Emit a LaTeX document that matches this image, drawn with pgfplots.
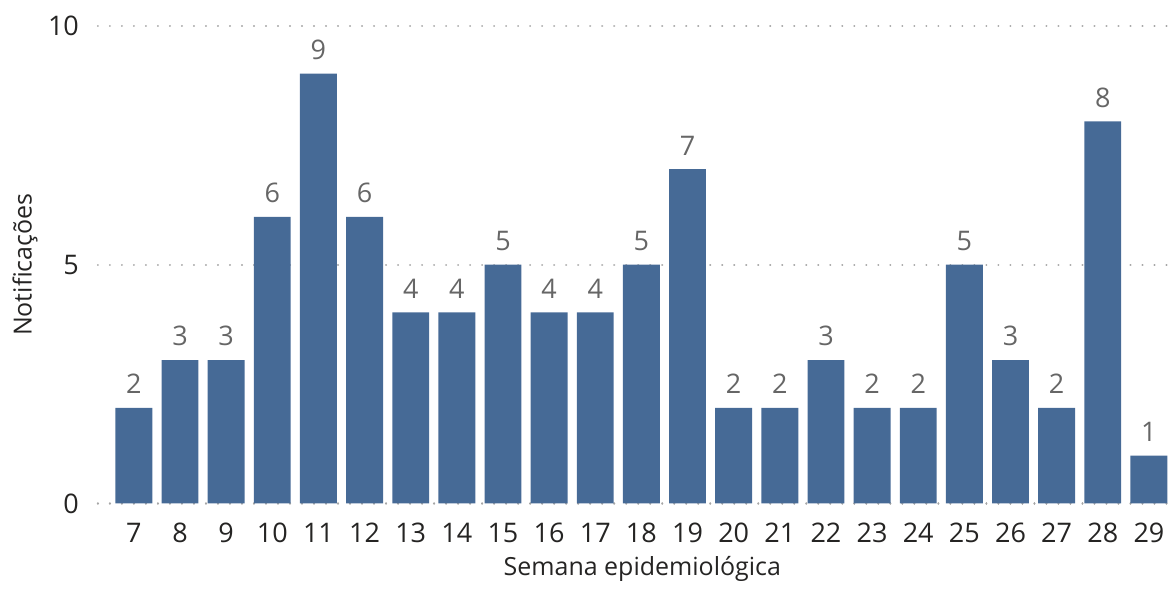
\documentclass[border=0pt]{standalone}
\usepackage{pgfplots}
\pgfplotsset{compat=1.18}
\usepackage{fontspec}
\setmainfont{Open Sans}
\definecolor{barblue}{HTML}{466A96}
\definecolor{lblgray}{HTML}{666666}
\definecolor{tickblack}{HTML}{252423}

\pgfplotstableread{
semana notif
7 2
8 3
9 3
10 6
11 9
12 6
13 4
14 4
15 5
16 4
17 4
18 5
19 7
20 2
21 2
22 3
23 2
24 2
25 5
26 3
27 2
28 8
29 1
}\notificacoes

\begin{document}
\begin{tikzpicture}
% fixed canvas: 1px = 0.5pt
\path (-49pt,-39pt) rectangle (536.5pt,252pt);
\begin{axis}[
    at={(0,0)}, anchor=south west,
    scale only axis,
    width=536.5pt, height=239pt,
    xmin=6.22, xmax=29.45,
    ymin=0, ymax=10,
    ytick={0,5,10},
    xtick={7,...,29},
    axis line style={draw=none},
    tick style={draw=none},
    ymajorgrids,
    major grid style={draw=gray!70, line width=1.1pt, dash pattern=on 0.01pt off 6pt, line cap=round},
    ticklabel style={font=\fontsize{13.5}{16}\selectfont, text=tickblack},
    /pgf/number format/assume math mode=true,
    yticklabel style={anchor=east, xshift=-6pt},
    xticklabel style={anchor=north, yshift=-2pt},
    xlabel={Semana epidemiológica},
    ylabel={Notificações},
    label style={font=\fontsize{12.5}{15}\selectfont, text=tickblack},
    xlabel style={at={(axis description cs:0.508,0)}, anchor=center, yshift=-33pt},
    ylabel style={at={(axis description cs:-0.068,0.5)}, anchor=center},
    ybar,
    bar width=0.8,
    nodes near coords,
    nodes near coords style={font=\fontsize{13.5}{16}\selectfont, text=lblgray, anchor=south, yshift=3.5pt},
]
\addplot[fill=barblue, draw=none] table[x=semana, y=notif] {\notificacoes};
\end{axis}
\end{tikzpicture}
\end{document}
